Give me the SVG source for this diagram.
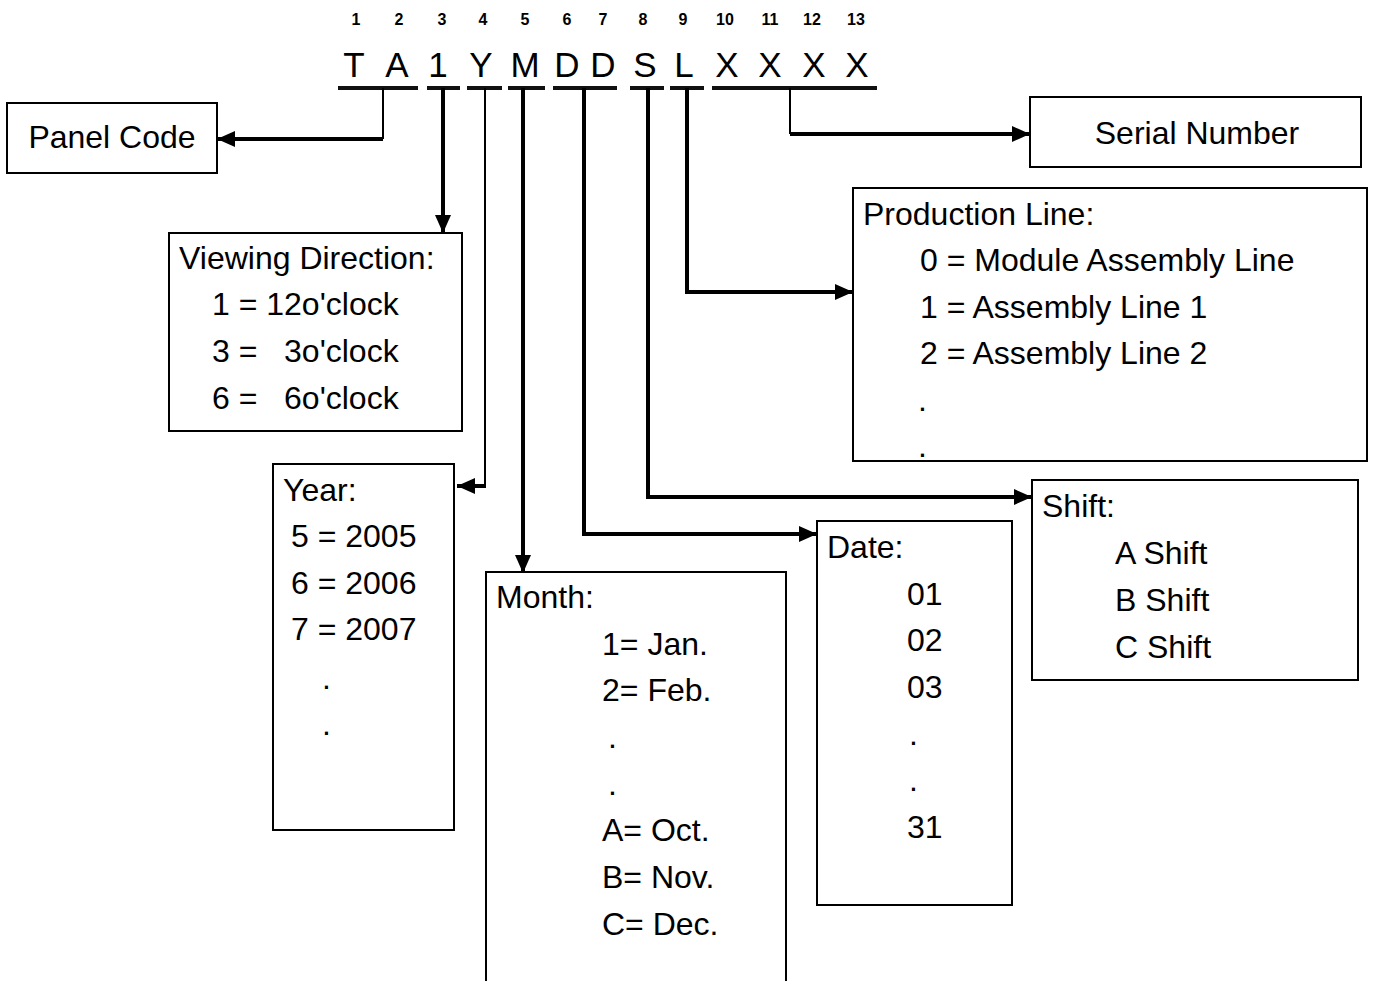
<svg xmlns="http://www.w3.org/2000/svg" width="1373" height="981" viewBox="0 0 1373 981">
<defs>
<style>
text{font-family:"Liberation Sans",Arial,sans-serif;fill:#000;white-space:pre}
.num{font-size:16px;font-weight:bold;text-anchor:middle}
.code{font-size:35px;text-anchor:middle}
.t{font-size:32px}
.box{fill:#fff;stroke:#000;stroke-width:2}
.ul{stroke:#111;stroke-width:4;fill:none}
.thick{stroke:#000;stroke-width:4;fill:none;stroke-linejoin:miter}
.thin{stroke:#000;stroke-width:2;fill:none}
</style>
<marker id="ah" viewBox="0 0 18 16" refX="18" refY="8" markerWidth="18" markerHeight="16" markerUnits="userSpaceOnUse" orient="auto">
<path d="M0,0 L18,8 L0,16 z" fill="#000"/>
</marker>
</defs>
<rect width="1373" height="981" fill="#fff"/>

<g id="header">
<text class="num" x="356" y="25">1</text>
<text class="num" x="399" y="25">2</text>
<text class="num" x="442" y="25">3</text>
<text class="num" x="483" y="25">4</text>
<text class="num" x="525" y="25">5</text>
<text class="num" x="567" y="25">6</text>
<text class="num" x="603" y="25">7</text>
<text class="num" x="643" y="25">8</text>
<text class="num" x="683" y="25">9</text>
<text class="num" x="725" y="25">10</text>
<text class="num" x="770" y="25">11</text>
<text class="num" x="812" y="25">12</text>
<text class="num" x="856" y="25">13</text>
<text class="code" x="354" y="77">T</text>
<text class="code" x="397" y="77">A</text>
<text class="code" x="438" y="77">1</text>
<text class="code" x="481" y="77">Y</text>
<text class="code" x="525" y="77">M</text>
<text class="code" x="567" y="77">D</text>
<text class="code" x="603" y="77">D</text>
<text class="code" x="645" y="77">S</text>
<text class="code" x="684" y="77">L</text>
<text class="code" x="727" y="77">X</text>
<text class="code" x="770" y="77">X</text>
<text class="code" x="814" y="77">X</text>
<text class="code" x="857" y="77">X</text>
<line class="ul" x1="338" y1="88" x2="418" y2="88"/>
<line class="ul" x1="427" y1="88" x2="460" y2="88"/>
<line class="ul" x1="467" y1="88" x2="502" y2="88"/>
<line class="ul" x1="508" y1="88" x2="545" y2="88"/>
<line class="ul" x1="553" y1="88" x2="617" y2="88"/>
<line class="ul" x1="630" y1="88" x2="664" y2="88"/>
<line class="ul" x1="670" y1="88" x2="704" y2="88"/>
<line class="ul" x1="712" y1="88" x2="877" y2="88"/>
</g>

<g id="connectors">
<path class="thin" d="M383,88 V139"/>
<path class="thick" d="M383,139 H217" marker-end="url(#ah)"/>
<path class="thick" d="M443,88 V233" marker-end="url(#ah)"/>
<path class="thin" d="M485,88 V486"/>
<path class="thick" d="M486,486 H457" marker-end="url(#ah)"/>
<path class="thick" d="M523,88 V573" marker-end="url(#ah)"/>
<path class="thick" d="M584,88 V534 H817" marker-end="url(#ah)"/>
<path class="thick" d="M648,88 V497 H1032" marker-end="url(#ah)"/>
<path class="thick" d="M687,88 V292 H853" marker-end="url(#ah)"/>
<path class="thin" d="M790,88 V134"/>
<path class="thick" d="M790,134 H1030" marker-end="url(#ah)"/>
</g>

<g id="panel-code">
<rect class="box" x="7" y="103" width="210" height="70"/>
<text class="t" x="112" y="148" text-anchor="middle">Panel Code</text>
</g>

<g id="serial-number">
<rect class="box" x="1030" y="97" width="331" height="70"/>
<text class="t" x="1197" y="144" text-anchor="middle">Serial Number</text>
</g>

<g id="viewing-direction">
<rect class="box" x="169" y="233" width="293" height="198"/>
<text class="t" x="179" y="269">Viewing Direction:</text>
<text class="t" x="212" y="315">1 = 12o'clock</text>
<text class="t" x="212" y="362">3 =   3o'clock</text>
<text class="t" x="212" y="409">6 =   6o'clock</text>
</g>

<g id="production-line">
<rect class="box" x="853" y="188" width="514" height="273"/>
<text class="t" x="863" y="225">Production Line:</text>
<text class="t" x="920" y="271">0 = Module Assembly Line</text>
<text class="t" x="920" y="318">1 = Assembly Line 1</text>
<text class="t" x="920" y="364">2 = Assembly Line 2</text>
<text class="t" x="918" y="411">.</text>
<text class="t" x="918" y="457">.</text>
</g>

<g id="year">
<rect class="box" x="273" y="464" width="181" height="366"/>
<text class="t" x="283" y="501">Year:</text>
<text class="t" x="291" y="547">5 = 2005</text>
<text class="t" x="291" y="594">6 = 2006</text>
<text class="t" x="291" y="640">7 = 2007</text>
<text class="t" x="322" y="689">.</text>
<text class="t" x="322" y="735">.</text>
</g>

<g id="shift">
<rect class="box" x="1032" y="480" width="326" height="200"/>
<text class="t" x="1042" y="517">Shift:</text>
<text class="t" x="1115" y="564">A Shift</text>
<text class="t" x="1115" y="611">B Shift</text>
<text class="t" x="1115" y="658">C Shift</text>
</g>

<g id="date">
<rect class="box" x="817" y="521" width="195" height="384"/>
<text class="t" x="827" y="558">Date:</text>
<text class="t" x="907" y="605">01</text>
<text class="t" x="907" y="651">02</text>
<text class="t" x="907" y="698">03</text>
<text class="t" x="909" y="745">.</text>
<text class="t" x="909" y="791">.</text>
<text class="t" x="907" y="838">31</text>
</g>

<g id="month">
<rect class="box" x="486" y="572" width="300" height="420"/>
<text class="t" x="496" y="608">Month:</text>
<text class="t" x="602" y="655">1= Jan.</text>
<text class="t" x="602" y="701">2= Feb.</text>
<text class="t" x="608" y="748">.</text>
<text class="t" x="608" y="795">.</text>
<text class="t" x="602" y="841">A= Oct.</text>
<text class="t" x="602" y="888">B= Nov.</text>
<text class="t" x="602" y="935">C= Dec.</text>
</g>
</svg>
